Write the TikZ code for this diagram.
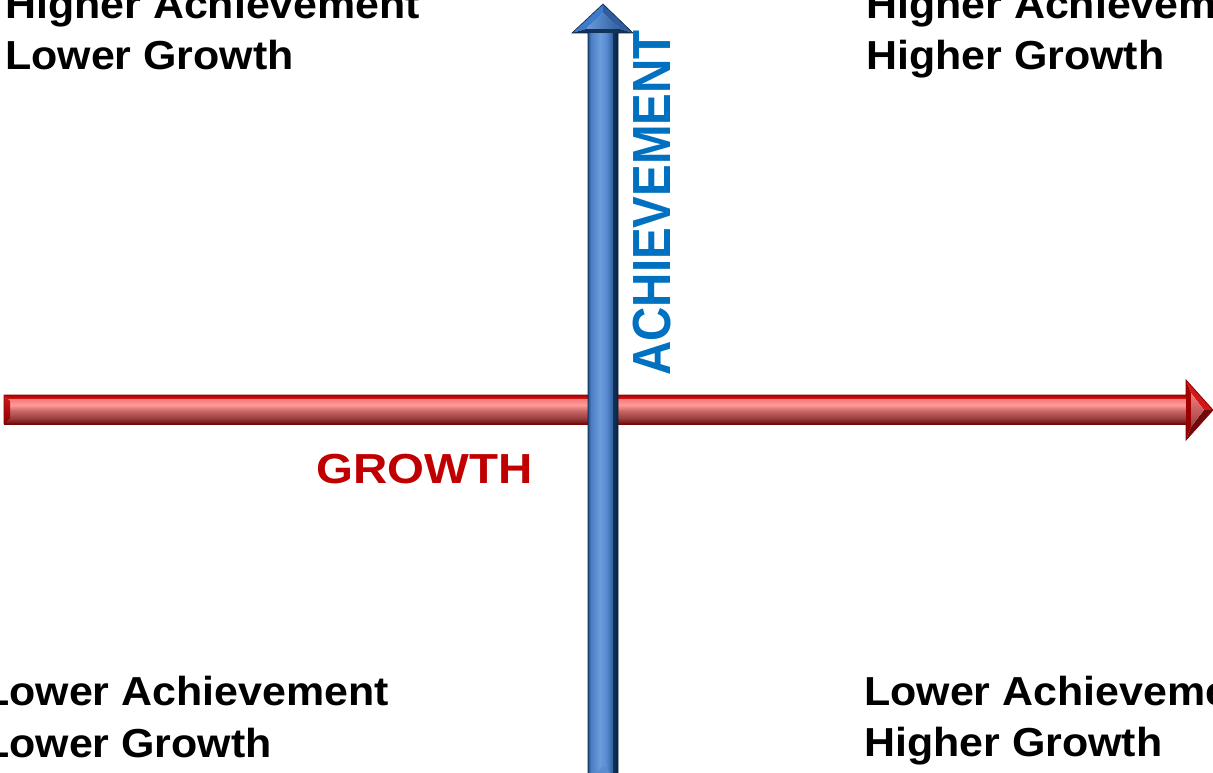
\documentclass[tikz,border=0pt]{standalone}
\usepackage{fontspec}
\setmainfont{Liberation Sans}
\definecolor{growthred}{HTML}{C00000}
\definecolor{achieveblue}{HTML}{0070C0}
% red arrow tones
\definecolor{rdeep}{HTML}{8E0000}
\definecolor{rdark}{HTML}{B00000}
\definecolor{rmain}{HTML}{D01818}
\definecolor{rlight}{HTML}{F47C7C}
\definecolor{rpale}{HTML}{FF9A9A}
\definecolor{rmuted}{HTML}{C86464}
\definecolor{rbrown}{HTML}{9C4040}
\definecolor{rshadow}{HTML}{6E0A0A}
% blue arrow tones
\definecolor{bedge}{HTML}{234F8C}
\definecolor{bmid}{HTML}{4B7FC4}
\definecolor{blight}{HTML}{6B9BDA}
\definecolor{bmain}{HTML}{5A8CD0}
\definecolor{bshade}{HTML}{2E5E9E}
\definecolor{bdark}{HTML}{123359}
\definecolor{bnavy}{HTML}{0A2440}
\definecolor{bface}{HTML}{3D7BCB}
\begin{document}
\begin{tikzpicture}[x=1pt,y=-1pt,
  quad/.style={anchor=base west, inner sep=0pt, xscale=1.06,
    font=\fontsize{40.5}{48}\selectfont\bfseries, text=black},
  axislabel/.style={inner sep=0pt, xscale=1.13}]
\useasboundingbox (0,0) rectangle (1213,773);

\begin{scope}
\clip (0,0) rectangle (1213,773);

% ---- horizontal red arrow (growth axis) ----
\shade[top color=rdark, bottom color=rmain] (4,395) rectangle (1186,399);
\shade[top color=rlight, bottom color=rpale] (4,399) rectangle (1186,405);
\shade[top color=rpale, bottom color=rmuted] (4,405) rectangle (1186,411);
\shade[top color=rmuted, bottom color=rbrown] (4,411) rectangle (1186,418);
\shade[top color=rbrown, bottom color=rshadow] (4,418) rectangle (1186,424);
% bevelled tail end
\shade[top color=rmain, bottom color=rdeep] (4,395) -- (10,401) -- (10,418) -- (4,424) -- cycle;
% head
\fill[rmain] (1186,380) -- (1213,410) -- (1204,410) -- (1191,393) -- cycle;
\fill[rshadow] (1213,410) -- (1186,440) -- (1191,427) -- (1204,410) -- cycle;
\shade[top color=rdark, bottom color=rdeep] (1186,380) -- (1191,393) -- (1191,427) -- (1186,440) -- cycle;
\shade[top color=rlight, bottom color=rbrown] (1191,393) -- (1204,410) -- (1191,427) -- cycle;
\draw[rdeep, line width=0.8pt, line join=miter]
  (4,395) -- (1186,395) -- (1186,380) -- (1213,410) -- (1186,440) -- (1186,424) -- (4,424) -- cycle;

% ---- vertical blue arrow (achievement axis) ----
\shade[left color=bedge, right color=bmid] (588,33) rectangle (591,785);
\shade[left color=bmid, right color=blight] (591,33) rectangle (600,785);
\shade[left color=blight, right color=bmain] (600,33) rectangle (606,785);
\shade[left color=bmain, right color=bshade] (606,33) rectangle (613,785);
\shade[left color=bdark, right color=bnavy] (613,33) rectangle (618,785);
% bevelled bottom end
\fill[bmain] (588,781) -- (603,766) -- (618,781) -- cycle;
% head
\fill[bface] (572,33) -- (603,4) -- (603,13) -- (586,29) -- cycle;
\fill[bshade] (603,4) -- (633,33) -- (620,29) -- (603,13) -- cycle;
\fill[bdark] (572,33) -- (586,29) -- (620,29) -- (633,33) -- cycle;
\shade[left color=blight, right color=bshade] (586,29) -- (603,13) -- (620,29) -- cycle;
\draw[bnavy, line width=0.6pt, line join=miter]
  (588,785) -- (588,33) -- (572,33) -- (603,4) -- (633,33) -- (618,33) -- (618,785);
\end{scope}

% ---- axis labels ----
\node[axislabel, anchor=base west, text=growthred,
  font=\fontsize{42}{50}\selectfont\bfseries] (growth) at (316,483) {GROWTH};
\node[axislabel, rotate=90, anchor=base west, text=achieveblue,
  font=\fontsize{47.5}{56}\selectfont\bfseries] (achievement) at (670,376) {ACHIEVEMENT};

% ---- quadrant labels ----
\node[quad] (tl1) at (5,19) {Higher Achievement};
\node[quad] (tl2) at (5,70) {Lower Growth};
\node[quad] (tr1) at (866,19) {Higher Achievement};
\node[quad] (tr2) at (866,70) {Higher Growth};
\node[quad] (bl1) at (-17,705) {Lower Achievement};
\node[quad] (bl2) at (-17,757) {Lower Growth};
\node[quad] (br1) at (864,705) {Lower Achievement};
\node[quad] (br2) at (864,756) {Higher Growth};
\end{tikzpicture}
\end{document}
